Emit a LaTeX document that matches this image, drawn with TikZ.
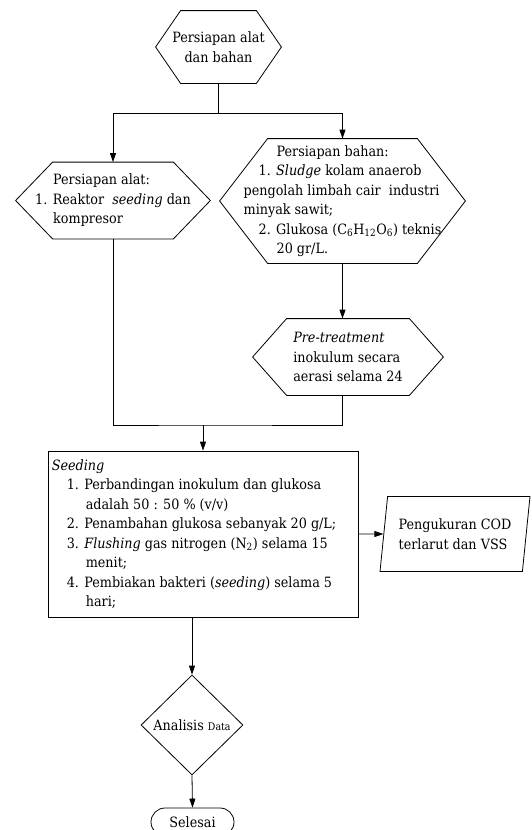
\documentclass[tikz,border=0pt]{standalone}
\usepackage{fontspec}
\setmainfont{DejaVu Serif Condensed}
\usetikzlibrary{arrows.meta, positioning, shapes.geometric, shapes.misc}
\tikzset{
  every picture/.style={line width=0.8pt, x=1pt, y=-1pt},
  every node/.style={font=\fontsize{14.2}{19.5}\selectfont, inner sep=0pt},
  hexa/.style={rectangle, align=left},
  prosesbox/.style={draw, rectangle, align=left},
  datanode/.style={draw, trapezium, trapezium left angle=76, trapezium right angle=104, trapezium stretches body, align=left},
  putusan/.style={draw, diamond},
  akhir/.style={draw, rounded rectangle},
  arrow/.style={-{Triangle[length=9pt, width=6pt]}},
}
% bingkai segi enam di sekeliling node
\newcommand{\heksa}[2]{\draw ([xshift=#2]#1.north west) -- ([xshift=-#2]#1.north east) -- (#1.east)
  -- ([xshift=-#2]#1.south east) -- ([xshift=#2]#1.south west) -- (#1.west) -- cycle;}

\begin{document}
\begin{tikzpicture}
  \useasboundingbox (0,0) rectangle (531,830);
  \node[hexa, minimum width=125, minimum height=72, align=center] (mulai) at (218.5,47)
    {Persiapan alat\\dan bahan};
  \node[hexa, minimum width=194, minimum height=76] (alat) at (113,200.5)
    {\hspace*{18pt}Persiapan alat:\\1. Reaktor \ \textit{seeding} dan\\\hspace*{18pt}kompresor};
  \node[hexa, minimum width=245, minimum height=124] (bahan) at (342.5,201)
    {\hspace*{33pt}Persiapan bahan:\\\hspace*{15pt}1. \textit{Sludge} kolam anaerob\\pengolah limbah cair\ \ industri\\minyak sawit;\\\hspace*{15pt}2. Glukosa (C\textsubscript{6}H\textsubscript{12}O\textsubscript{6}) teknis\\\hspace*{33pt}20 gr/L.};
  \node[hexa, minimum width=190, minimum height=76] (pretreat) at (348,357)
    {\textit{Pre-treatment}\\inokulum secara\\aerasi selama 24};
  \heksa{mulai}{25}
  \heksa{alat}{37}
  \heksa{bahan}{48}
  \heksa{pretreat}{34}
  \node[prosesbox, minimum width=310, minimum height=166] (seeding) at (203,534)
    {\textit{Seeding}\\
     \hspace*{15pt}1. Perbandingan inokulum dan glukosa\\
     \hspace*{34pt}adalah 50 : 50 \% (v/v)\\
     \hspace*{15pt}2. Penambahan glukosa sebanyak 20 g/L;\\
     \hspace*{15pt}3. \textit{Flushing} gas nitrogen (N\textsubscript{2}) selama 15\\
     \hspace*{34pt}menit;\\
     \hspace*{15pt}4. Pembiakan bakteri (\textit{seeding}) selama 5\\
     \hspace*{34pt}hari;\hspace*{238pt}};
  \node[datanode, minimum width=150, minimum height=75] (ukur) at (455,534)
    {Pengukuran COD\\terlarut dan VSS};
  \node[putusan, minimum width=102, minimum height=100] (analisis) at (192,725)
    {Analisis {\fontsize{10.5}{12}\selectfont Data}};
  \node[akhir, minimum width=83, minimum height=28] (selesai) at (192.5,822) {Selesai};

  % percabangan
  \coordinate (bagi) at (218.5,113);
  \draw (mulai.south) -- (bagi);
  \draw[arrow] (bagi) -| (alat.north);
  \draw[arrow] (bagi) -| (bahan.north);
  \draw[arrow] (bahan.south) -- (bahan.south |- pretreat.north);
  % penggabungan
  \coordinate (gabung) at (203,425);
  \draw (alat.south) |- (gabung) -| (bahan.south |- pretreat.south);
  \draw[arrow] (gabung) -- (seeding.north);
  \draw[arrow] (seeding.east) -- (ukur.west);
  \draw[arrow] (seeding.south -| analisis.north) -- (analisis.north);
  \draw[arrow] (analisis.south) -- (selesai.north);
\end{tikzpicture}
\end{document}
